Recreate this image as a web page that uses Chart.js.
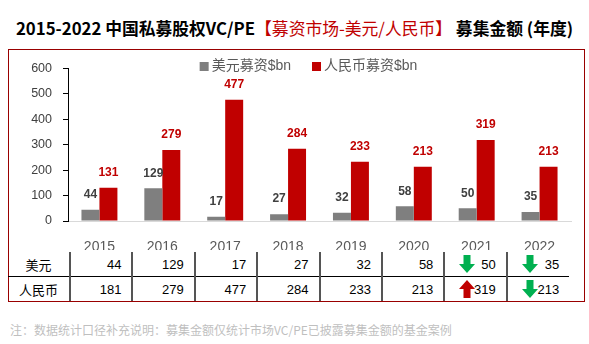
<!DOCTYPE html>
<html>
<head>
<meta charset="utf-8">
<script src="https://cdn.jsdelivr.net/npm/chart.js@4"></script>
<style>
  body { margin: 0; width: 589px; height: 344px; background: #fff; position: relative; overflow: hidden; font-family: "Liberation Sans", "Noto Sans CJK SC", sans-serif; }
  #title { position: absolute; left: 0; top: 16px; width: 589px; text-align: center; font-family: "Noto Sans CJK SC", sans-serif; font-size: 16.8px; font-weight: bold; color: #000; white-space: nowrap; }
  #title .red { color: #c00000; font-weight: normal; }
  #frame { position: absolute; left: 8px; top: 49px; width: 575px; height: 251px; border: 1px solid #990000; }
  #chart_box { position: absolute; left: 0; top: 50px; width: 589px; height: 200px; }
  #table { position: absolute; left: 8px; top: 252px; border-collapse: collapse; table-layout: fixed; width: 561px; font-size: 13px; color: #000; }
  #table td { height: 24px; padding: 0 10px 0 0; text-align: right; position: relative; border-left: 2px solid #555; }
  #table td.row_name { text-align: center; padding: 0; border-left: none; font-family: "Noto Sans CJK SC", sans-serif; }
  #table tr.second td { border-top: 1px solid #000; height: 24px; }
  #table svg { position: absolute; left: 14px; top: 3px; }
  #note { position: absolute; left: 10px; top: 321px; font-family: "Noto Sans CJK SC", sans-serif; font-size: 12px; color: #bfbfbf; white-space: nowrap; }
</style>
</head>
<body>
<div id="title">2015-2022 中国私募股权VC/PE<span class="red">【募资市场-美元/人民币】</span> 募集金额 (年度)</div>
<div id="frame"></div>
<div id="chart_box"><canvas id="fund_chart"></canvas></div>
<table id="table"></table>
<div id="note">注：数据统计口径补充说明：募集金额仅统计市场VC/PE已披露募集金额的基金案例</div>

<script>
const years = ["2015", "2016", "2017", "2018", "2019", "2020", "2021", "2022"];
const usd_raised = [44, 129, 17, 27, 32, 58, 50, 35];
const rmb_raised = [131, 279, 477, 284, 233, 213, 319, 213];

// rows of the table under the chart
const usd_table = [44, 129, 17, 27, 32, 58, 50, 35];
const rmb_table = [181, 279, 477, 284, 233, 213, 319, 213];
const usd_trend = ["", "", "", "", "", "", "down", "down"];
const rmb_trend = ["", "", "", "", "", "", "up", "down"];

const y_max = 600;
const y_step = 100;

const GRAY = "#7f7f7f";
const RED = "#c00000";
const FONT = "'Liberation Sans', 'Noto Sans CJK SC', sans-serif";

// value labels above every bar
const bar_labels = {
  id: "bar_labels",
  afterDatasetsDraw(chart) {
    const ctx = chart.ctx;
    ctx.save();
    ctx.font = "bold 12px " + FONT;
    ctx.textAlign = "center";
    ctx.textBaseline = "middle";
    chart.data.datasets.forEach((ds, i) => {
      ctx.fillStyle = ds.labelColor;
      chart.getDatasetMeta(i).data.forEach((bar, j) => {
        ctx.fillText(ds.data[j], bar.x, bar.y - 15);
      });
    });
    ctx.restore();
  },
};

// legend row drawn inside the plot, near the top
const top_legend = {
  id: "top_legend",
  afterDraw(chart) {
    const ctx = chart.ctx;
    const area = chart.chartArea;
    ctx.save();
    ctx.font = "14px " + FONT;
    ctx.textBaseline = "middle";
    const items = chart.data.datasets.map((ds) => ({ text: ds.label, color: ds.backgroundColor }));
    let total = 0;
    items.forEach((it, i) => {
      total += 9 + 3 + ctx.measureText(it.text).width + (i < items.length - 1 ? 21 : 0);
    });
    let x = (area.left + area.right) / 2 - 11 - total / 2;
    const y = area.top - 2;
    items.forEach((it) => {
      ctx.fillStyle = it.color;
      ctx.fillRect(x, y - 4.5, 9, 9);
      x += 12;
      ctx.fillStyle = "#595959";
      ctx.fillText(it.text, x, y);
      x += ctx.measureText(it.text).width + 21;
    });
    ctx.restore();
  },
};

const config = {
  type: "bar",
  data: {
    labels: years,
    datasets: [
      {
        label: "美元募资$bn",
        data: usd_raised,
        backgroundColor: GRAY,
        labelColor: "#404040",
        categoryPercentage: 0.572,
        barPercentage: 1,
      },
      {
        label: "人民币募资$bn",
        data: rmb_raised,
        backgroundColor: RED,
        labelColor: RED,
        categoryPercentage: 0.572,
        barPercentage: 1,
      },
    ],
  },
  options: {
    responsive: true,
    maintainAspectRatio: false,
    animation: false,
    layout: { padding: { top: 13, right: 18, left: 0, bottom: 0 } },
    plugins: {
      legend: { display: false },
      tooltip: { enabled: false },
    },
    scales: {
      x: {
        grid: { display: false },
        border: { display: true, color: "#d9d9d9", width: 1 },
        ticks: { color: "#595959", font: { size: 14, family: FONT }, padding: 10 },
        afterFit(scale) { scale.height = 29; },
      },
      y: {
        min: 0,
        max: y_max,
        grid: { drawOnChartArea: false, drawTicks: true, tickLength: 5, color: "#000" },
        border: { display: true, color: "#000", width: 1 },
        ticks: { stepSize: y_step, color: "#404040", font: { size: 12.5, family: FONT }, padding: 11 },
        afterFit(scale) { scale.width = 68; },
      },
    },
  },
  plugins: [bar_labels, top_legend],
};

new Chart(document.getElementById("fund_chart"), config);

// table under the chart
function arrow_svg(dir) {
  const color = dir == "up" ? RED : "#00b050";
  const pts = dir == "up"
    ? "8,0 16,9 11.5,9 11.5,18 4.5,18 4.5,9 0,9"
    : "4.5,0 11.5,0 11.5,9 16,9 8,18 0,9 4.5,9";
  return '<svg width="16" height="18" viewBox="0 0 16 18"><polygon points="' + pts + '" fill="' + color + '"/></svg>';
}

function build_row(name, values, trend, cls) {
  let html = '<tr class="' + cls + '"><td class="row_name">' + name + "</td>";
  for (let i = 0; i < values.length; i++) {
    html += "<td>" + (trend[i] ? arrow_svg(trend[i]) : "") + values[i] + "</td>";
  }
  return html + "</tr>";
}

let cols = '<colgroup><col style="width:62px">';
for (let i = 0; i < years.length; i++) cols += '<col style="width:62.4px">';
cols += "</colgroup>";

document.getElementById("table").innerHTML =
  cols +
  build_row("美元", usd_table, usd_trend, "first") +
  build_row("人民币", rmb_table, rmb_trend, "second");
</script>
</body>
</html>
